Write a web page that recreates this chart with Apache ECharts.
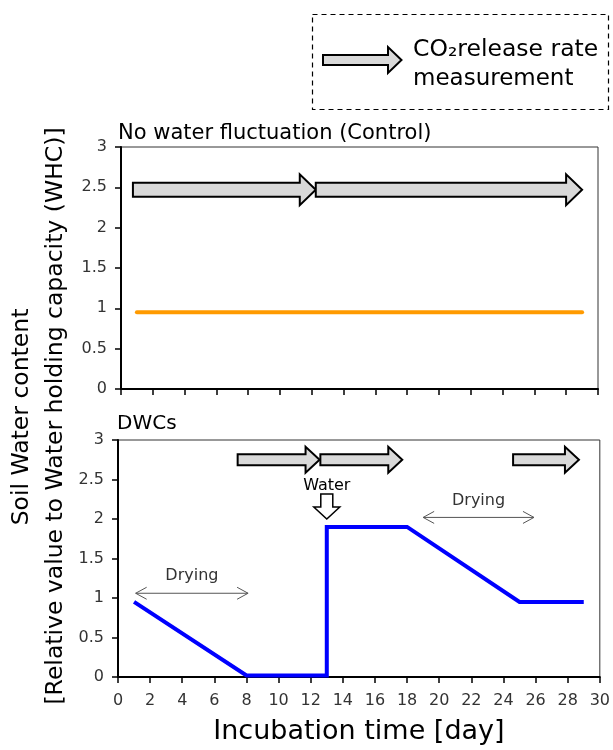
<!DOCTYPE html>
<html>
<head>
<meta charset="utf-8">
<script src="https://cdn.jsdelivr.net/npm/echarts@6/dist/echarts.min.js"></script>
<style>
  html, body { margin: 0; padding: 0; background: #fff; }
  #chart { width: 613px; height: 750px; }
</style>
</head>
<body>
<div id="chart"></div>
<script>
// Incubation days and soil water content (relative to WHC)
const controlDays = [1, 29];
const controlWater = [0.95, 0.95];
const dwcDays = [1, 8, 13, 13, 18, 25, 29];
const dwcWater = [0.95, 0.02, 0.02, 1.9, 1.9, 0.95, 0.95];

// CO2 release rate measurement periods: [start day, end day, height]
const controlMeasure = [[0.75, 12.25, 2.47], [12.25, 29.0, 2.47]];
const dwcMeasure = [[7.45, 12.55, 2.75], [12.6, 17.7, 2.75], [24.6, 28.7, 2.75]];

// Rewetting event: [day, value at arrow tip]
const waterEvent = [[13, 2.0]];
// Drying periods: [start day, end day, height]
const dryingSpans = [[1.1, 8.1, 1.06], [19.0, 25.9, 2.02]];

const xTicks = { min: 0, max: 30, interval: 2 };
const yTicks = { min: 0, max: 3, interval: 0.5 };

const FONT = 'DejaVu Sans';
const chart = echarts.init(document.getElementById('chart'), null, { renderer: 'canvas' });

function pairs(xs, ys) { return xs.map((x, i) => [x, ys[i]]); }

// Block arrow (grey fill, black outline) between two days at a given height
function blockArrow(bodyHalf, headHalf, headLen) {
  return function (params, api) {
    const a = api.coord([api.value(0), api.value(2)]);
    const b = api.coord([api.value(1), api.value(2)]);
    const y = a[1], x0 = a[0], x1 = b[0], xh = x1 - headLen;
    return {
      type: 'polygon',
      shape: { points: [[x0, y - bodyHalf], [xh, y - bodyHalf], [xh, y - headHalf], [x1, y],
                        [xh, y + headHalf], [xh, y + bodyHalf], [x0, y + bodyHalf]] },
      style: { fill: '#d9d9d9', stroke: '#000', lineWidth: 2, lineJoin: 'miter' }
    };
  };
}

const xAxisBase = {
  type: 'value', min: xTicks.min, max: xTicks.max, interval: xTicks.interval,
  splitLine: { show: false },
  axisLine: { show: true, onZero: false, lineStyle: { color: '#000', width: 2 } },
  axisTick: { show: true, inside: false, length: 6, lineStyle: { color: '#000', width: 1.5 } }
};
const yAxisBase = {
  type: 'value', min: yTicks.min, max: yTicks.max, interval: yTicks.interval,
  splitLine: { show: false },
  axisLine: { show: true, onZero: false, lineStyle: { color: '#000', width: 2 } },
  axisTick: { show: true, inside: false, length: 6, lineStyle: { color: '#000', width: 1.5 } },
  axisLabel: { color: '#333', fontFamily: FONT, fontSize: 16, margin: 14 }
};

const option = {
  backgroundColor: '#fff',
  animation: false,
  title: [
    { text: 'No water fluctuation (Control)', left: 113, top: 118,
      textStyle: { fontFamily: FONT, fontSize: 21, fontWeight: 'normal', color: '#000' } },
    { text: 'DWCs', left: 112, top: 409,
      textStyle: { fontFamily: FONT, fontSize: 20, fontWeight: 'normal', color: '#000' } }
  ],
  grid: [
    { left: 121, right: 15, top: 147, height: 242, show: true, borderColor: '#333', borderWidth: 1 },
    { left: 118, right: 10, top: 440, height: 237, show: true, borderColor: '#333', borderWidth: 1 }
  ],
  xAxis: [
    Object.assign({}, xAxisBase, { gridIndex: 0, axisLabel: { show: false } }),
    Object.assign({}, xAxisBase, { gridIndex: 1,
      axisLabel: { color: '#333', fontFamily: FONT, fontSize: 16, margin: 16 },
      name: 'Incubation time [day]', nameLocation: 'middle', nameGap: 41,
      nameTextStyle: { fontFamily: FONT, fontSize: 27, color: '#000' } })
  ],
  yAxis: [
    Object.assign({}, yAxisBase, { gridIndex: 0 }),
    Object.assign({}, yAxisBase, { gridIndex: 1 })
  ],
  series: [
    { type: 'line', xAxisIndex: 0, yAxisIndex: 0, data: pairs(controlDays, controlWater),
      showSymbol: false, symbol: 'none', lineStyle: { color: '#ff9a00', width: 4, cap: 'round' } },
    { type: 'line', xAxisIndex: 1, yAxisIndex: 1, data: pairs(dwcDays, dwcWater),
      showSymbol: false, symbol: 'none', lineStyle: { color: '#0000ff', width: 4, join: 'miter' } },
    { type: 'custom', xAxisIndex: 0, yAxisIndex: 0, data: controlMeasure,
      renderItem: blockArrow(7, 15.5, 16), z: 5 },
    { type: 'custom', xAxisIndex: 1, yAxisIndex: 1, data: dwcMeasure,
      renderItem: blockArrow(5.5, 13, 14), z: 5 },
    { type: 'custom', xAxisIndex: 1, yAxisIndex: 1, data: waterEvent, z: 5,
      renderItem: function (params, api) {
        const p = api.coord([api.value(0), api.value(1)]);
        const x = p[0], y = p[1];
        return {
          type: 'group',
          children: [
            { type: 'polygon',
              shape: { points: [[x - 6, y - 25], [x + 6, y - 25], [x + 6, y - 12], [x + 13, y - 12],
                                [x, y], [x - 13, y - 12], [x - 6, y - 12]] },
              style: { fill: '#fff', stroke: '#000', lineWidth: 1.5 } },
            { type: 'text', x: x, y: y - 33,
              style: { text: 'Water', fontFamily: FONT, fontSize: 16, fill: '#000',
                       align: 'center', verticalAlign: 'middle' } }
          ]
        };
      } },
    { type: 'custom', xAxisIndex: 1, yAxisIndex: 1, data: dryingSpans, z: 5,
      renderItem: function (params, api) {
        const a = api.coord([api.value(0), api.value(2)]);
        const b = api.coord([api.value(1), api.value(2)]);
        const y = a[1], x0 = a[0], x1 = b[0];
        const ls = { stroke: '#555', lineWidth: 1, fill: null };
        return {
          type: 'group',
          children: [
            { type: 'line', shape: { x1: x0, y1: y, x2: x1, y2: y }, style: ls },
            { type: 'polyline', shape: { points: [[x0 + 11, y - 6], [x0, y], [x0 + 11, y + 6]] }, style: ls },
            { type: 'polyline', shape: { points: [[x1 - 11, y - 6], [x1, y], [x1 - 11, y + 6]] }, style: ls },
            { type: 'text', x: (x0 + x1) / 2, y: y - 17,
              style: { text: 'Drying', fontFamily: FONT, fontSize: 16, fill: '#333',
                       align: 'center', verticalAlign: 'middle' } }
          ]
        };
      } }
  ],
  graphic: [
    // shared y-axis title
    { type: 'text', x: 22, y: 417, rotation: Math.PI / 2,
      style: { text: 'Soil Water content', fontFamily: FONT, fontSize: 23.5, fill: '#000',
               align: 'center', verticalAlign: 'middle' } },
    { type: 'text', x: 56, y: 416, rotation: Math.PI / 2,
      style: { text: '[Relative value to Water holding capacity (WHC)]', fontFamily: FONT, fontSize: 23.5,
               fill: '#000', align: 'center', verticalAlign: 'middle' } },
    // key box for the measurement arrows
    { type: 'rect', shape: { x: 312.5, y: 14.5, width: 296, height: 95 },
      style: { fill: '#fff', stroke: '#000', lineWidth: 1.2, lineDash: [5, 4] } },
    { type: 'polygon',
      shape: { points: [[323, 55], [388, 55], [388, 47], [401.5, 60], [388, 73], [388, 65], [323, 65]] },
      style: { fill: '#d9d9d9', stroke: '#000', lineWidth: 2 } },
    { type: 'text', x: 413, y: 50,
      style: { text: 'CO\u2082release rate', fontFamily: FONT, fontSize: 23.5, fill: '#000',
               align: 'left', verticalAlign: 'middle' } },
    { type: 'text', x: 413, y: 79,
      style: { text: 'measurement', fontFamily: FONT, fontSize: 23, fill: '#000',
               align: 'left', verticalAlign: 'middle' } }
  ]
};

chart.setOption(option);
</script>
</body>
</html>
